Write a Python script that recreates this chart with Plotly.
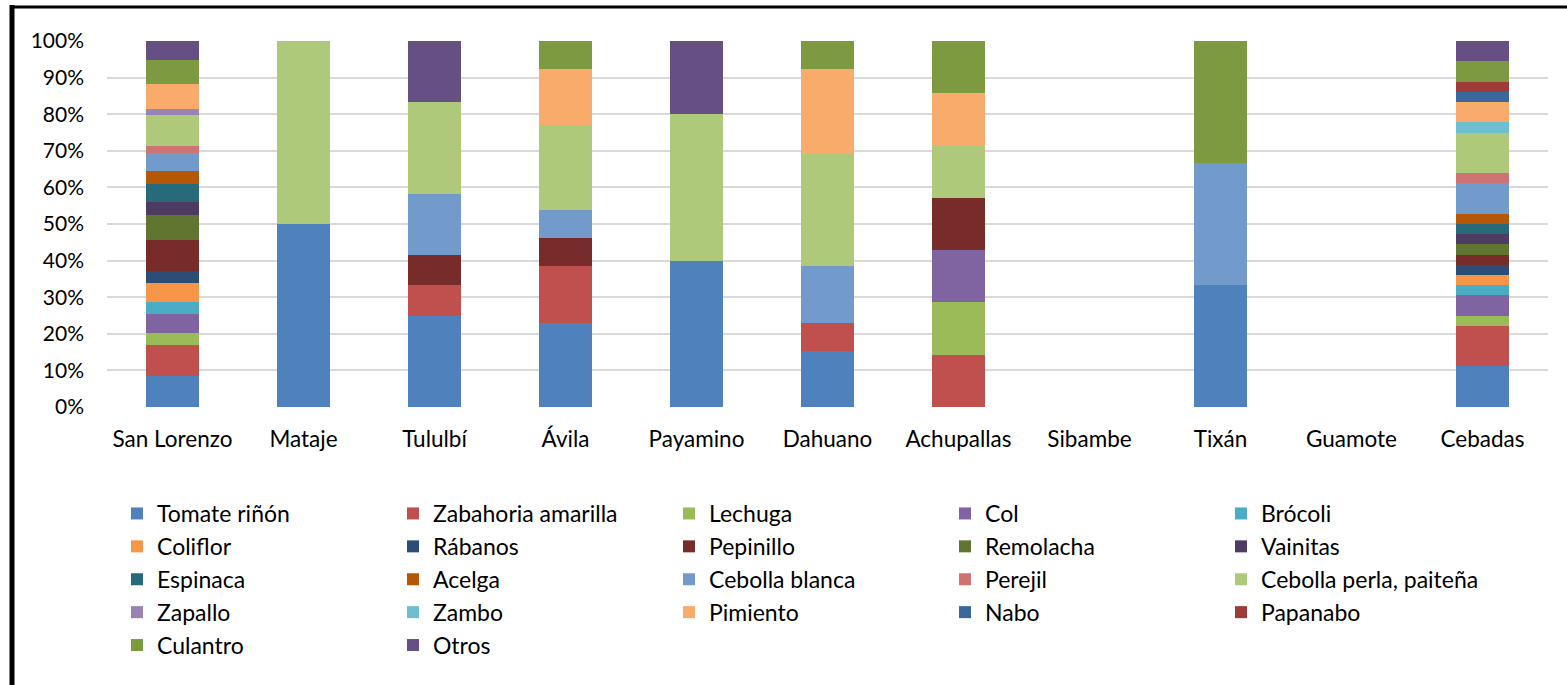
import plotly.graph_objects as go

categories = ["San Lorenzo", "Mataje", "Tululbí", "Ávila", "Payamino", "Dahuano",
              "Achupallas", "Sibambe", "Tixán", "Guamote", "Cebadas"]

series_names = ["Tomate riñón", "Zabahoria amarilla", "Lechuga", "Col", "Brócoli",
                "Coliflor", "Rábanos", "Pepinillo", "Remolacha", "Vainitas",
                "Espinaca", "Acelga", "Cebolla blanca", "Perejil", "Cebolla perla, paiteña",
                "Zapallo", "Zambo", "Pimiento", "Nabo", "Papanabo",
                "Culantro", "Otros"]

# counts per category (normalised to 100% by the chart)
tomate         = [5, 1, 3, 3, 2, 2, 0, 0, 1, 0, 4]
zabahoria      = [5, 0, 1, 2, 0, 1, 1, 0, 0, 0, 4]
lechuga        = [2, 0, 0, 0, 0, 0, 1, 0, 0, 0, 1]
col            = [3, 0, 0, 0, 0, 0, 1, 0, 0, 0, 2]
brocoli        = [2, 0, 0, 0, 0, 0, 0, 0, 0, 0, 1]
coliflor       = [3, 0, 0, 0, 0, 0, 0, 0, 0, 0, 1]
rabanos        = [2, 0, 0, 0, 0, 0, 0, 0, 0, 0, 1]
pepinillo      = [5, 0, 1, 1, 0, 0, 1, 0, 0, 0, 1]
remolacha      = [4, 0, 0, 0, 0, 0, 0, 0, 0, 0, 1]
vainitas       = [2, 0, 0, 0, 0, 0, 0, 0, 0, 0, 1]
espinaca       = [3, 0, 0, 0, 0, 0, 0, 0, 0, 0, 1]
acelga         = [2, 0, 0, 0, 0, 0, 0, 0, 0, 0, 1]
cebolla_blanca = [3, 0, 2, 1, 0, 2, 0, 0, 1, 0, 3]
perejil        = [1, 0, 0, 0, 0, 0, 0, 0, 0, 0, 1]
cebolla_perla  = [5, 1, 3, 3, 2, 4, 1, 0, 0, 0, 4]
zapallo        = [1, 0, 0, 0, 0, 0, 0, 0, 0, 0, 0]
zambo          = [0, 0, 0, 0, 0, 0, 0, 0, 0, 0, 1]
pimiento       = [4, 0, 0, 2, 0, 3, 1, 0, 0, 0, 2]
nabo           = [0, 0, 0, 0, 0, 0, 0, 0, 0, 0, 1]
papanabo       = [0, 0, 0, 0, 0, 0, 0, 0, 0, 0, 1]
culantro       = [4, 0, 0, 1, 0, 1, 1, 0, 1, 0, 2]
otros          = [3, 0, 2, 0, 1, 0, 0, 0, 0, 0, 2]

series_values = [tomate, zabahoria, lechuga, col, brocoli, coliflor, rabanos,
                 pepinillo, remolacha, vainitas, espinaca, acelga, cebolla_blanca,
                 perejil, cebolla_perla, zapallo, zambo, pimiento, nabo, papanabo,
                 culantro, otros]

colors = ["#4F81BD", "#C0504D", "#9BBB59", "#8064A2", "#4BACC6",
          "#F79646", "#2C4D75", "#772C2A", "#5F7530", "#4D3B62",
          "#276A7C", "#B65708", "#729ACA", "#CD7371", "#AFC97A",
          "#9983B5", "#6FBDD1", "#F9AB6B", "#3A679C", "#9F3B38",
          "#7E9A40", "#664F83"]

ytick_vals = [i / 10 for i in range(11)]
ytick_text = [f"{i * 10}%" for i in range(11)]

FONT = "Lato, Carlito, 'Liberation Sans', sans-serif"

fig = go.Figure()
for name, vals, c in zip(series_names, series_values, colors):
    fig.add_trace(go.Bar(x=categories, y=vals, name=name,
                         marker=dict(color=c, line=dict(width=0))))

W, H = 1567, 685
L, R, T, B = 107, 19, 41, 278
pw, ph = W - L - R, H - T - B

def px_x(x):
    return (x - L) / pw

def px_y(y):
    return (H - B - y) / ph

fig.update_layout(
    width=W, height=H,
    barmode="stack", barnorm="fraction", bargap=0.6,
    margin=dict(l=L, r=R, t=T, b=B, pad=0),
    paper_bgcolor="white", plot_bgcolor="white",
    font=dict(family=FONT, size=22, color="#000000"),
    showlegend=True,
    legend=dict(orientation="h", x=px_x(117), xanchor="left",
                y=px_y(492), yanchor="top",
                entrywidth=231, entrywidthmode="pixels",
                traceorder="normal",
                font=dict(family=FONT, size=23, color="#000000"),
                bgcolor="rgba(0,0,0,0)", borderwidth=0),
    xaxis=dict(showgrid=False, zeroline=False, showline=False, ticks="",
               tickfont=dict(family=FONT, size=22.5, color="#000000"),
               ticklabelstandoff=16),
    yaxis=dict(range=[0, 1], tickvals=ytick_vals, ticktext=ytick_text,
               showgrid=True, gridcolor="#D9D9D9", gridwidth=2,
               zeroline=False, showline=False, ticks="",
               tickfont=dict(family=FONT, size=21, color="#000000"),
               ticklabelstandoff=22),
    shapes=[
        dict(type="line", xref="paper", yref="paper",
             x0=px_x(12), x1=px_x(12), y0=px_y(5), y1=px_y(700),
             line=dict(color="black", width=5)),
        dict(type="line", xref="paper", yref="paper",
             x0=px_x(10), x1=px_x(1580), y0=px_y(7), y1=px_y(7),
             line=dict(color="black", width=3)),
    ],
)

fig.write_html("out.html", config={"displayModeBar": False},
               post_script="document.body.style.margin='0';")
